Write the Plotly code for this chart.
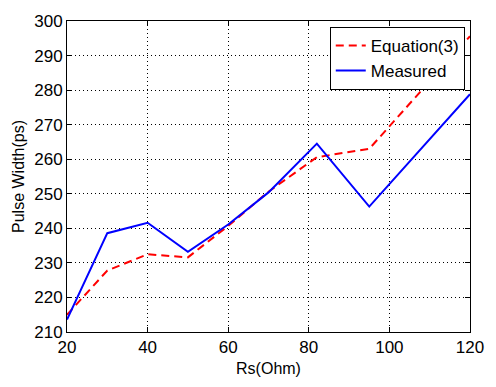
import plotly.graph_objects as go

rs_eq = [20, 30, 40, 50, 60, 70, 82, 95, 120]
pw_eq = [215.0, 227.8, 232.5, 231.6, 240.7, 250.6, 260.6, 263.0, 295.6]

rs_meas = [20, 30, 40, 50, 60, 70, 82, 95, 120]
pw_meas = [213.6, 238.6, 241.6, 233.2, 241.1, 250.4, 264.5, 246.3, 278.8]

x_ticks = [20, 40, 60, 80, 100, 120]
y_ticks = [210, 220, 230, 240, 250, 260, 270, 280, 290, 300]

FONT = "Liberation Sans, Arial, Helvetica, sans-serif"

fig = go.Figure()
fig.add_trace(go.Scatter(x=rs_eq, y=pw_eq, mode="lines", name="Equation(3)",
                         line=dict(color="rgb(255,0,0)", width=2, dash="8px,5px")))
fig.add_trace(go.Scatter(x=rs_meas, y=pw_meas, mode="lines", name="Measured",
                         line=dict(color="rgb(0,0,255)", width=2)))

axis_common = dict(
    showline=True, linecolor="black", linewidth=1, mirror="ticks",
    ticks="inside", ticklen=5, tickcolor="black", tickwidth=1,
    showgrid=True, gridcolor="black", gridwidth=1, griddash="1px,3px",
    zeroline=False, tickfont=dict(family=FONT, size=17, color="black"),
)

fig.update_layout(
    width=496, height=387,
    margin=dict(l=67, r=15, t=13, b=45),
    paper_bgcolor="white", plot_bgcolor="white",
    font=dict(family=FONT, size=16, color="black"),
    xaxis=dict(range=[20, 120], tickvals=x_ticks, ticktext=[str(v) for v in x_ticks],
               title=dict(text="Rs(Ohm)", font=dict(family=FONT, size=16), standoff=6),
               **axis_common),
    yaxis=dict(range=[210, 300], tickvals=y_ticks, ticktext=[str(v) for v in y_ticks],
               title=dict(text="Pulse Width(ps)", font=dict(family=FONT, size=16), standoff=5),
               **axis_common),
    legend=dict(x=0.987, y=0.981, xanchor="right", yanchor="top",
                bgcolor="white", bordercolor="black", borderwidth=1,
                font=dict(family=FONT, size=17, color="black"),
                tracegroupgap=0),
    showlegend=True,
)

fig.write_html("out.html")
